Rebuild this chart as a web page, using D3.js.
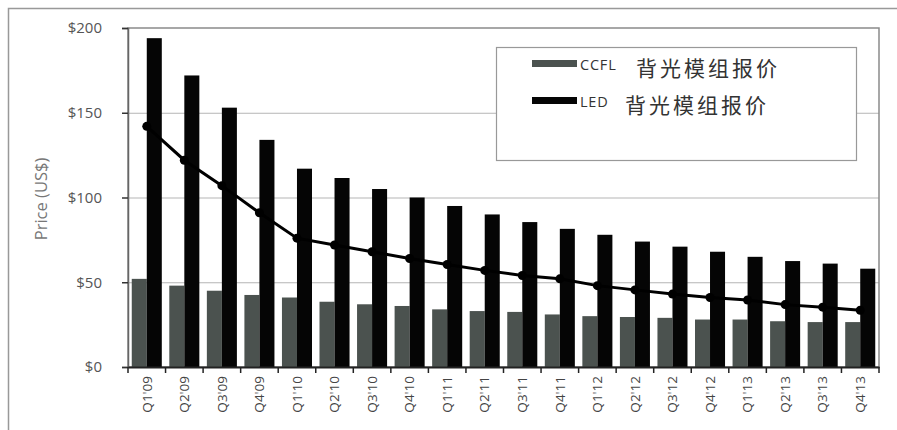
<!DOCTYPE html>
<html lang="zh">
<head>
    <meta charset="utf-8">
    <title>CCFL / LED 背光模组报价</title>
    <script type="text/javascript" src="https://d3js.org/d3.v7.min.js"></script>
    <style type="text/css">
        body { margin: 0; overflow: hidden; background: #fff; }
        svg { display: block; }
    </style>
</head>
<body>
    <script type="text/javascript">
        // Quarters on the x axis
        var quarters = ["Q1'09", "Q2'09", "Q3'09", "Q4'09", "Q1'10", "Q2'10", "Q3'10", "Q4'10",
                        "Q1'11", "Q2'11", "Q3'11", "Q4'11", "Q1'12", "Q2'12", "Q3'12", "Q4'12",
                        "Q1'13", "Q2'13", "Q3'13", "Q4'13"];
        // Backlight module prices (US$)
        var ccfl = [52, 48, 45, 42.5, 41, 38.5, 37, 36, 34, 33, 32.5, 31, 30, 29.5, 29, 28, 28, 27, 26.5, 26.5];
        var led = [194, 172, 153, 134, 117, 111.5, 105, 100, 95, 90, 85.5, 81.5, 78, 74, 71, 68, 65, 62.5, 61, 58];
        var trend = [142, 122, 107, 91, 76, 72, 68, 64, 60.5, 57, 54, 52, 48, 45.5, 43, 41, 39.5, 36.8, 35.3, 33.5];
        var yTicks = [0, 50, 100, 150, 200];
        var legendLabels = [["CCFL", "背光模组报价"], ["LED", "背光模组报价"]];

        var width = 897, height = 430;
        var plot = { left: 128, right: 879, top: 28, bottom: 367 };
        var ccflColor = "#4b524f", ledColor = "#050505";
        var latinFont = "'Open Sans', 'DejaVu Sans', sans-serif";

        var svg = d3.select("body").append("svg")
            .attr("width", width)
            .attr("height", height);

        // outer frame (only left/top edges visible)
        svg.append("path")
            .attr("d", "M8.5," + height + "V8.5H" + width)
            .attr("fill", "none")
            .attr("stroke", "#999")
            .attr("stroke-width", 1.5);

        var x = d3.scaleBand()
            .domain(quarters)
            .range([plot.left, plot.right])
            .padding(0);

        var sub = d3.scaleBand()
            .domain(["CCFL", "LED"])
            .range([0, x.bandwidth()])
            .paddingInner(0)
            .paddingOuter(0.25);

        var y = d3.scaleLinear()
            .domain([0, 200])
            .range([plot.bottom, plot.top]);

        // gridlines
        svg.append("g")
            .selectAll("line")
            .data(yTicks.filter(function(d) { return d > 0 && d < 200; }))
            .enter().append("line")
            .attr("x1", plot.left).attr("x2", plot.right)
            .attr("y1", function(d) { return y(d) + 0.5; })
            .attr("y2", function(d) { return y(d) + 0.5; })
            .attr("stroke", "#b5b5b5")
            .attr("stroke-width", 1);

        // plot border
        svg.append("rect")
            .attr("x", plot.left).attr("y", plot.top)
            .attr("width", plot.right - plot.left)
            .attr("height", plot.bottom - plot.top)
            .attr("fill", "none")
            .attr("stroke", "#8a8a8a")
            .attr("stroke-width", 1.5);

        // bars
        var groups = svg.append("g")
            .selectAll("g")
            .data(quarters)
            .enter().append("g")
            .attr("transform", function(d) { return "translate(" + x(d) + ",0)"; });

        groups.append("rect")
            .attr("x", sub("CCFL"))
            .attr("width", sub.bandwidth())
            .attr("y", function(d, i) { return y(ccfl[i]); })
            .attr("height", function(d, i) { return y(0) - y(ccfl[i]); })
            .attr("fill", ccflColor);

        groups.append("rect")
            .attr("x", sub("LED"))
            .attr("width", sub.bandwidth())
            .attr("y", function(d, i) { return y(led[i]); })
            .attr("height", function(d, i) { return y(0) - y(led[i]); })
            .attr("fill", ledColor);

        // trend line with markers
        var line = d3.line()
            .x(function(d, i) { return x(quarters[i]) + x.bandwidth() / 2; })
            .y(function(d) { return y(d); });

        svg.append("path")
            .datum(trend)
            .attr("d", line)
            .attr("fill", "none")
            .attr("stroke", "#000")
            .attr("stroke-width", 3);

        svg.append("g")
            .selectAll("circle")
            .data(trend)
            .enter().append("circle")
            .attr("cx", function(d, i) { return x(quarters[i]) + x.bandwidth() / 2; })
            .attr("cy", function(d) { return y(d); })
            .attr("r", 4.5)
            .attr("fill", "#000");

        // y axis
        var yAxis = svg.append("g")
            .attr("transform", "translate(" + plot.left + ",0)")
            .call(d3.axisLeft(y).tickValues(yTicks).tickSize(6).tickPadding(20)
                .tickFormat(function(d) { return "$" + d; }));
        yAxis.select(".domain").attr("stroke", "#666").attr("stroke-width", 1.5);
        yAxis.selectAll(".tick line").attr("stroke", "#333").attr("stroke-width", 1.5);
        yAxis.selectAll("text")
            .attr("fill", "#555")
            .attr("font-family", latinFont)
            .attr("font-size", 15);

        // x axis
        var xAxis = svg.append("g")
            .attr("transform", "translate(0," + plot.bottom + ")")
            .call(d3.axisBottom(x).tickSize(0).tickPadding(0));
        xAxis.select(".domain").attr("stroke", "#222").attr("stroke-width", 2);
        xAxis.selectAll(".tick text")
            .attr("transform", "rotate(-90)")
            .attr("x", -9)
            .attr("y", 0)
            .attr("dy", "0.35em")
            .style("text-anchor", "end")
            .attr("fill", "#444")
            .attr("font-family", latinFont)
            .attr("font-size", 13.5);

        // band boundary ticks
        svg.append("g")
            .selectAll("line")
            .data(quarters.concat(["end"]))
            .enter().append("line")
            .attr("x1", function(d, i) { return plot.left + i * x.step(); })
            .attr("x2", function(d, i) { return plot.left + i * x.step(); })
            .attr("y1", plot.bottom)
            .attr("y2", plot.bottom + 6)
            .attr("stroke", "#222")
            .attr("stroke-width", 1.5);

        // y axis title
        svg.append("text")
            .attr("transform", "translate(47,199) rotate(-90)")
            .attr("text-anchor", "middle")
            .attr("fill", "#777")
            .attr("font-family", latinFont)
            .attr("font-size", 16.5)
            .text("Price (US$)");

        // legend
        var legend = svg.append("g");
        legend.append("rect")
            .attr("x", 496.5).attr("y", 47.5)
            .attr("width", 360).attr("height", 113)
            .attr("fill", "#fff")
            .attr("stroke", "#999")
            .attr("stroke-width", 1.2);

        var rows = legend.selectAll("g.row")
            .data(legendLabels)
            .enter().append("g")
            .attr("class", "row")
            .attr("transform", function(d, i) { return "translate(0," + (i * 37) + ")"; });

        rows.append("rect")
            .attr("x", 532).attr("y", 60)
            .attr("width", 45).attr("height", 7)
            .attr("fill", function(d, i) { return i === 0 ? ccflColor : ledColor; });

        rows.append("text")
            .attr("x", 580).attr("y", 70)
            .attr("fill", "#333")
            .attr("font-family", latinFont)
            .attr("font-size", 14.5)
            .attr("letter-spacing", 0.8)
            .text(function(d) { return d[0]; });

        rows.append("text")
            .attr("x", function(d, i) { return i === 0 ? 636 : 625; })
            .attr("y", 76)
            .attr("fill", "#333")
            .attr("font-family", "'Noto Sans CJK SC', sans-serif")
            .attr("font-size", 21)
            .attr("letter-spacing", 3)
            .text(function(d) { return d[1]; });
    </script>
</body>
</html>
